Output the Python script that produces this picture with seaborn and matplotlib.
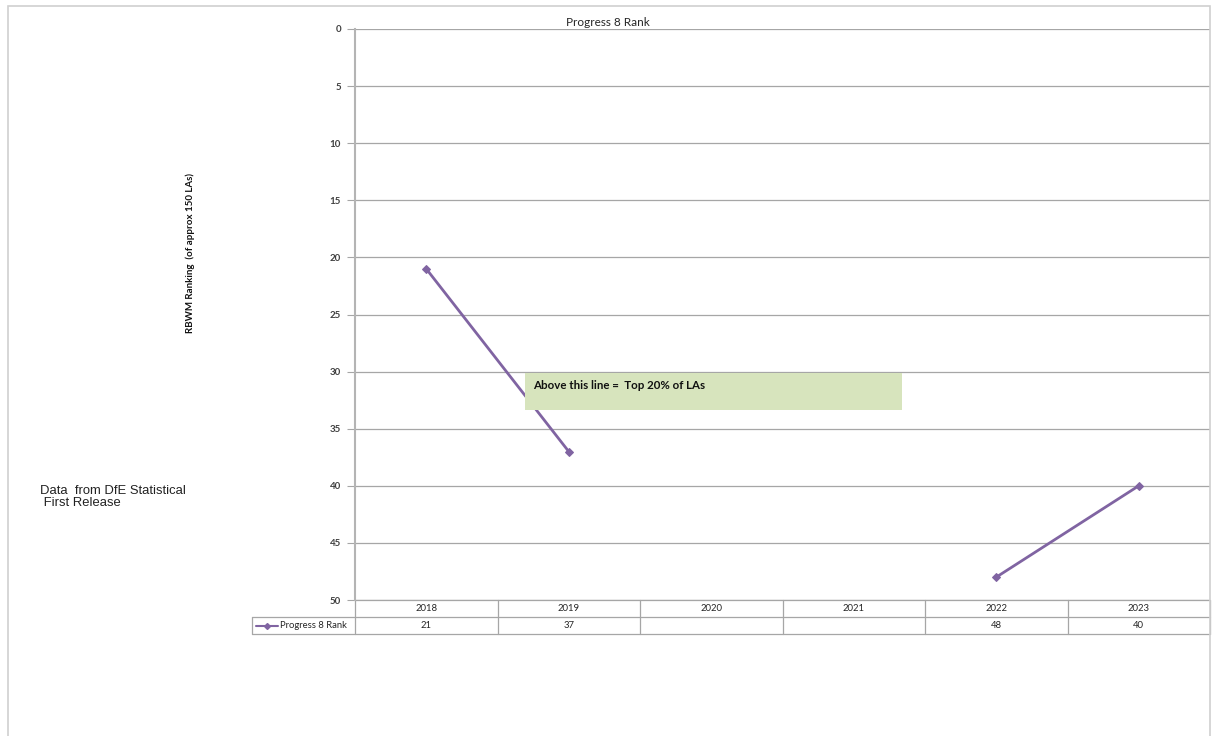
import numpy as np
import pandas as pd
import matplotlib
matplotlib.use("Agg")
import matplotlib.pyplot as plt
import matplotlib.transforms as mtransforms
from matplotlib.lines import Line2D
from matplotlib.patches import Rectangle
import seaborn as sns

# Progress 8 rank by year (no published figures for 2020 and 2021)
years = ["2018", "2019", "2020", "2021", "2022", "2023"]
ranks = [21, 37, np.nan, np.nan, 48, 40]
series_name = "Progress 8 Rank"
y_ticks = [0, 5, 10, 15, 20, 25, 30, 35, 40, 45, 50]
note_text = "Above this line =  Top 20% of LAs"
ylabel_text = "RBWM Ranking  (of approx 150 LAs)"
source_text = "Data  from DfE Statistical\n First Release"

sns.set_style("white")
plt.rcParams["font.family"] = ["Lato", "DejaVu Sans"]

W, H = 1214, 736
fig = plt.figure(figsize=(W / 100, H / 100), dpi=100)


def fx(px):
    return px / W


def fy(py):
    return 1 - py / H


# outer chart frame
fig.patches.append(Rectangle((fx(8), fy(745)), fx(1210) - fx(8), fy(6) - fy(745),
                             transform=fig.transFigure, fill=False,
                             edgecolor="#d0d0d0", linewidth=1.2, zorder=0))

ax = fig.add_axes([fx(355), fy(600), fx(1210) - fx(355), fy(29) - fy(600)])

df = pd.DataFrame({"pos": np.arange(len(years)), "year": years, "rank": ranks})
# consecutive runs of available years form separate line segments
df["segment"] = df["rank"].isna().cumsum()
df = df.dropna(subset=["rank"])

purple = "#8064A2"
grid_c = "#a6a6a6"
txt_c = "#262626"

sns.lineplot(data=df, x="pos", y="rank", units="segment", estimator=None,
             color=purple, linewidth=2, marker="D", markersize=4,
             markeredgecolor=purple, ax=ax, legend=False)

ax.set_xlim(-0.5, len(years) - 0.5)
ax.set_ylim(50, 0)
ax.set_yticks(y_ticks)
ax.set_yticklabels([str(t) for t in y_ticks], fontsize=7, fontweight="bold",
                   color="#404040")
ax.set_xticks([])
ax.set_xlabel("")
ax.set_ylabel("")
ax.tick_params(axis="y", length=6, width=0.8, color=grid_c, pad=4, left=True)
ax.grid(axis="y", color=grid_c, linewidth=0.9)
ax.set_axisbelow(True)
for side in ["top", "right", "bottom"]:
    ax.spines[side].set_visible(False)
ax.spines["left"].set_color("#b4b4b4")
ax.spines["left"].set_linewidth(1.5)

# annotation box
ax.add_patch(Rectangle((0.693, 30.1), 3.339 - 0.693, 3.25, facecolor="#d7e4bd",
                       edgecolor="none", zorder=3))
ax.text(0.75, 31.2, note_text, fontsize=8.3, fontweight="bold", color="#111111",
        va="center", ha="left", zorder=4)

# data table under the plot
trans = mtransforms.blended_transform_factory(ax.transData, ax.transAxes)
rh = 17 / 571.0
tab_c = "#a6a6a6"
lx = (252 - 355) / 855.0
ax.add_line(Line2D([0, 1], [0, 0], transform=ax.transAxes, color=tab_c,
                   linewidth=0.9, clip_on=False))
for yv in [-rh, -2 * rh]:
    ax.add_line(Line2D([lx, 1], [yv, yv], transform=ax.transAxes, color=tab_c,
                       linewidth=0.9, clip_on=False))
for i in range(len(years) + 1):
    ax.add_line(Line2D([i - 0.5, i - 0.5], [0, -2 * rh], transform=trans,
                       color=tab_c, linewidth=0.9, clip_on=False))
ax.add_line(Line2D([lx, lx], [-rh, -2 * rh], transform=ax.transAxes, color=tab_c,
                   linewidth=0.9, clip_on=False))
for i, (yr, rv) in enumerate(zip(years, ranks)):
    ax.text(i, -rh / 2, yr, transform=trans, ha="center", va="center",
            fontsize=6.8, color=txt_c)
    if not np.isnan(rv):
        ax.text(i, -1.5 * rh, f"{int(rv)}", transform=trans, ha="center",
                va="center", fontsize=6.8, color=txt_c)
# legend key in table
kx0 = (256 - 355) / 855.0
kx1 = (278 - 355) / 855.0
ax.add_line(Line2D([kx0, kx1], [-1.5 * rh, -1.5 * rh], transform=ax.transAxes,
                   color=purple, linewidth=1.5, clip_on=False))
ax.add_line(Line2D([(kx0 + kx1) / 2], [-1.5 * rh], transform=ax.transAxes,
                   color=purple, marker="D", markersize=3, clip_on=False))
ax.text((280 - 355) / 855.0, -1.5 * rh, series_name, transform=ax.transAxes,
        ha="left", va="center", fontsize=6.8, color=txt_c)

# titles and side texts
fig.text(fx(608), fy(22), series_name, ha="center", va="center", fontsize=8.5,
         color=txt_c)
fig.text(fx(190), fy(253), ylabel_text, rotation=90, ha="center", va="center",
         fontsize=7, fontweight="bold", color="#111111")
fig.text(fx(40), fy(497), source_text, ha="left", va="center", fontsize=9.4,
         color="#222222", family=["Liberation Sans", "DejaVu Sans"],
         linespacing=1.05)

fig.savefig("out.png", dpi=100)
